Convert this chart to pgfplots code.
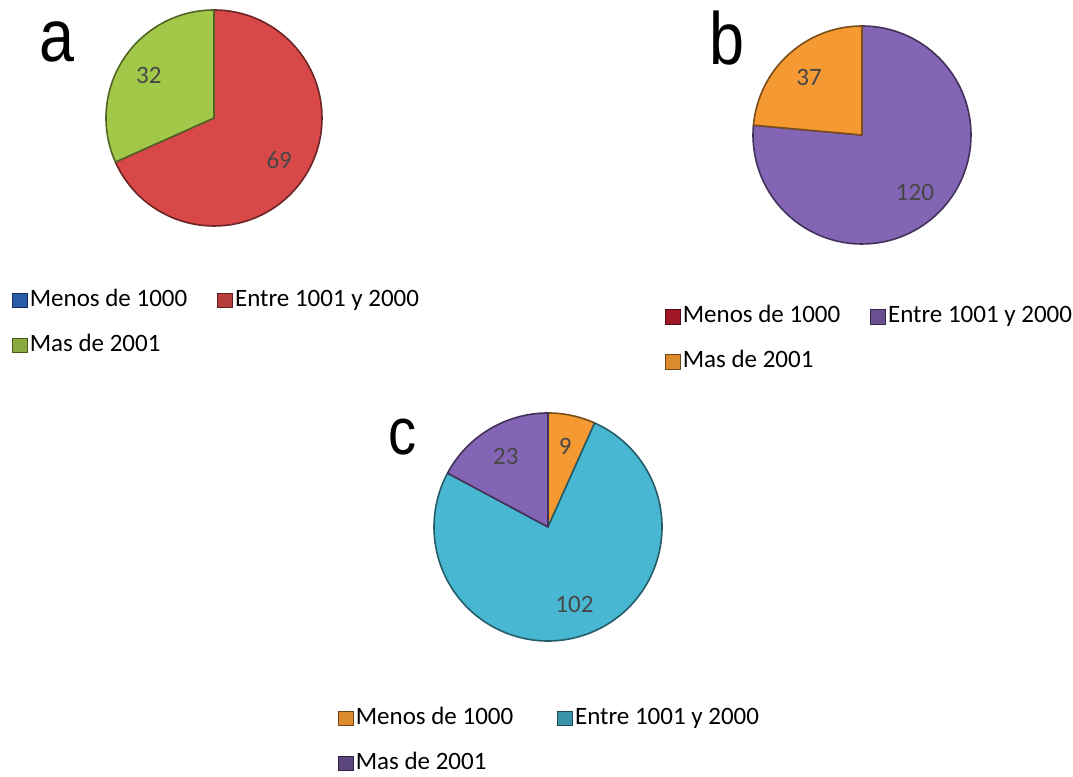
\documentclass[border=0pt]{standalone}
\usepackage{pgfplots}
\usepackage{pgfplotstable}
\pgfplotsset{compat=1.18}
\usepackage{fontspec}
\setmainfont{Carlito}
\newfontfamily\titlefont{Liberation Sans}

\definecolor{pBlue}{HTML}{2A5CAA}
\definecolor{pRed}{HTML}{D84848}
\definecolor{pGreen}{HTML}{A2C84A}
\definecolor{pPurple}{HTML}{8464B4}
\definecolor{pOrange}{HTML}{F59A32}
\definecolor{pCyan}{HTML}{48B8D2}
\definecolor{pDarkRed}{HTML}{A01828}

% counts per group: 0 = Menos de 1000, 1 = Entre 1001 y 2000, 2 = Mas de 2001
\pgfplotstableread{
cat val
0 0
1 69
2 32
}\dataA
\pgfplotstableread{
cat val
0 0
1 120
2 37
}\dataB
\pgfplotstableread{
cat val
0 9
1 102
2 23
}\dataC

\newcommand\pietotal[1]{%
  \pgfplotstablegetelem{0}{val}\of#1\let\va\pgfplotsretval
  \pgfplotstablegetelem{1}{val}\of#1\let\vb\pgfplotsretval
  \pgfplotstablegetelem{2}{val}\of#1\let\vc\pgfplotsretval
  \pgfmathsetmacro\total{\va+\vb+\vc}%
  \def\cum{0}}

% #1 table, #2 row, #3 cx, #4 cy, #5 radius (px), #6 colour
\newcommand\pieslice[6]{%
  \pgfplotstablegetelem{#2}{val}\of#1\let\val\pgfplotsretval
  \pgfmathsetmacro\sa{90-360*(\cum/\total)}%
  \pgfmathsetmacro\cum{\cum+\val}%
  \pgfmathsetmacro\ea{90-360*(\cum/\total)}%
  \pgfmathsetmacro\ma{(\sa+\ea)/2}%
  \pgfmathsetmacro\rp{0.5*#5}%
  \pgfmathsetmacro\lx{#3+0.72*#5*cos(\ma)}%
  \pgfmathsetmacro\ly{#4+0.72*#5*sin(\ma)}%
  \pgfmathtruncatemacro\iv{\val}%
  \edef\tmp{\noexpand\filldraw[fill=#6, draw=#6!50!black, line width=0.8pt, line join=round]
    (axis cs:#3,#4) -- ([shift={(\sa:\rp pt)}]axis cs:#3,#4)
    arc[start angle=\sa, end angle=\ea, radius=\rp pt] -- cycle;}\tmp
  \ifnum\iv>0
    \edef\tmp{\noexpand\node[text=black!72, font=\noexpand\fontsize{12.5}{14}\noexpand\selectfont]
      at (axis cs:\lx,\ly) {\iv};}\tmp
  \fi}

\pgfplotsset{
  canvas/.style={
    x=0.5pt, y=0.5pt, xmin=0, xmax=1073, ymin=0, ymax=777,
    scale only axis, hide axis, clip=false,
    at={(0pt,0pt)}, anchor=south west,
    legend columns=2,
    legend cell align=left,
    legend image code/.code={\filldraw[##1, line width=0.5pt] (0pt,-3.6pt) rectangle (7.4pt,3.6pt);},
    legend style={draw=none, fill=none, inner sep=0pt, outer sep=0pt, anchor=north west,
      font=\fontsize{12.5}{15}\selectfont, row sep=8.5pt,
      nodes={inner sep=1pt, text height=9pt, text depth=3pt}},
  },
  colgap/.style={legend style={/tikz/every even column/.append style={column sep=#1}}},
}
\tikzset{ttl/.style={font=\titlefont\fontsize{37}{40}\selectfont, anchor=base, xscale=0.85, transform shape}}

\begin{document}
\begin{tikzpicture}
\useasboundingbox (0pt,0pt) rectangle (536.5pt,388.5pt);

% a
\begin{axis}[canvas, colgap=14pt, legend style={at={(axis cs:12,490.5)}}]
  \addlegendimage{fill=pBlue, draw=pBlue!50!black}
  \addlegendentry{Menos de 1000}
  \addlegendimage{fill=pRed!85!black, draw=pRed!45!black}
  \addlegendentry{Entre 1001 y 2000}
  \addlegendimage{fill=pGreen!85!black, draw=pGreen!45!black}
  \addlegendentry{Mas de 2001}
  \pietotal{\dataA}
  \pieslice{\dataA}{0}{214}{659}{108}{pBlue}
  \pieslice{\dataA}{1}{214}{659}{108}{pRed}
  \pieslice{\dataA}{2}{214}{659}{108}{pGreen}
  \node[ttl] at (axis cs:57,715) {a};
\end{axis}

% b
\begin{axis}[canvas, colgap=14pt, legend style={at={(axis cs:665,474)}}]
  \addlegendimage{fill=pDarkRed, draw=pDarkRed!50!black}
  \addlegendentry{Menos de 1000}
  \addlegendimage{fill=pPurple!80!black, draw=pPurple!40!black}
  \addlegendentry{Entre 1001 y 2000}
  \addlegendimage{fill=pOrange!90!black, draw=pOrange!45!black}
  \addlegendentry{Mas de 2001}
  \pietotal{\dataB}
  \pieslice{\dataB}{0}{862}{642}{109}{pDarkRed}
  \pieslice{\dataB}{1}{862}{642}{109}{pPurple}
  \pieslice{\dataB}{2}{862}{642}{109}{pOrange}
  \node[ttl] at (axis cs:727,712) {b};
\end{axis}

% c
\begin{axis}[canvas, colgap=21pt, legend style={at={(axis cs:338,72.5)}}]
  \addlegendimage{fill=pOrange!90!black, draw=pOrange!45!black}
  \addlegendentry{Menos de 1000}
  \addlegendimage{fill=pCyan!80!black, draw=pCyan!40!black}
  \addlegendentry{Entre 1001 y 2000}
  \addlegendimage{fill=pPurple!70!black, draw=pPurple!35!black}
  \addlegendentry{Mas de 2001}
  \pietotal{\dataC}
  \pieslice{\dataC}{0}{548}{250}{114}{pOrange}
  \pieslice{\dataC}{1}{548}{250}{114}{pCyan}
  \pieslice{\dataC}{2}{548}{250}{114}{pPurple}
  \node[ttl, font=\titlefont\fontsize{33}{36}\selectfont] at (axis cs:403,322) {c};
\end{axis}
\end{tikzpicture}
\end{document}
